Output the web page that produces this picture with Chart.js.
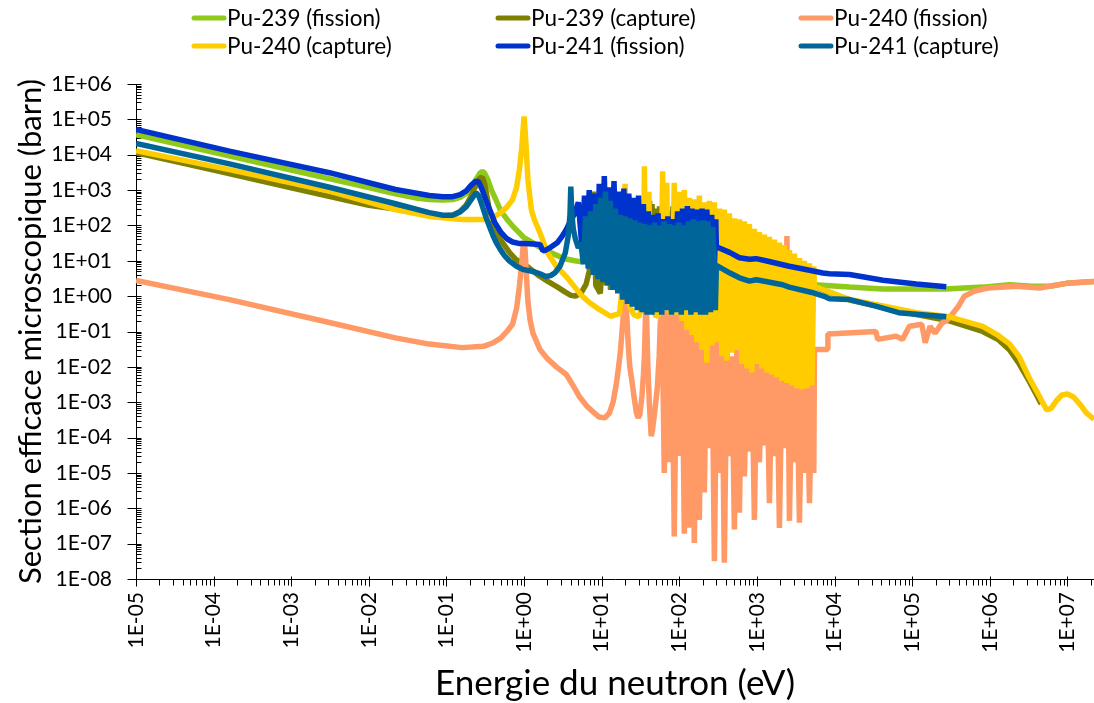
<!DOCTYPE html>
<html>
<head>
<meta charset="utf-8">
<script src="https://cdn.jsdelivr.net/npm/chart.js@4.4.1/dist/chart.umd.min.js"></script>
<style>
  html, body { margin: 0; padding: 0; background: #fff; }
  #wrap { position: relative; width: 1094px; height: 703px; }
</style>
</head>
<body>
<div id="wrap"><canvas id="c"></canvas></div>
<script>
// ---- Axis decades (exponents) and titles ----
const X_DECADES = [-5, -4, -3, -2, -1, 0, 1, 2, 3, 4, 5, 6, 7];
const Y_DECADES = [-8, -7, -6, -5, -4, -3, -2, -1, 0, 1, 2, 3, 4, 5, 6];
const X_MAX = 2.2e7;
const X_TITLE = 'Energie du neutron (eV)';
const Y_TITLE = 'Section efficace microscopique (barn)';

// ---- Pu-239 fission (eV, barn) ----
const PU239F_TH_E = [1e-5, 1e-4, 1e-3, 0.01, 0.022, 0.04, 0.06, 0.09, 0.12, 0.15, 0.18, 0.21, 0.24, 0.27, 0.29, 0.31, 0.34, 0.38, 0.43, 0.5,
  0.6, 0.75, 1.0, 1.3, 1.6, 2.2, 2.9, 3.6, 4.5, 5.6, 6.8];
const PU239F_TH   = [3.7e4, 1.17e4, 3.7e3, 1.17e3, 780, 600, 545, 525, 540, 620, 800, 1200, 2000, 3000, 3400, 3000, 2000, 1000, 550, 260,
  150, 85, 45, 32, 24, 17, 13, 11, 10, 9.3, 12];
const RES239_E = [7.8, 8.4, 9.6, 10.9, 11.5, 11.9, 13.0, 14.3, 15.0, 15.5, 16.5, 17.7, 19.5, 22.3, 24.0, 26.2, 29.0, 32.3, 34.0, 35.5,
  38.5, 41.4, 43.0, 44.5, 47.0, 50.1, 53.0, 55.6, 58.0, 60.9, 63.0, 65.4, 70.0, 74.0, 79.0, 82.7, 88.0,
  95, 103, 112, 122, 133, 145, 158, 172, 187, 204, 222, 242, 264, 288, 314, 342, 373, 407, 444, 484, 528, 576, 628, 685,
  747, 815, 889, 970, 1058, 1154, 1259, 1373, 1498, 1634, 1782, 1944, 2120, 2313, 2523, 3000, 4000, 5000];
const PU239F_RES_E = [7.4, ...RES239_E];
const PU239F_RES = [20, 300, 10, 9, 1200, 10, 500, 8, 400, 8, 300, 8, 350, 6, 500, 6, 350, 5, 300, 5,
  250, 5, 400, 5, 300, 5, 280, 5, 250, 4, 200, 4, 250, 4, 200, 4, 250, 4,
  300, 3, 400, 2, 250, 3, 200, 2, 300, 2, 150, 3, 200, 2, 150, 2, 100, 2, 90, 2, 60, 2,
  60, 2, 45, 2, 40, 2, 28, 2, 25, 2, 20, 2, 17, 2, 14, 2, 10, 3, 2.5, 2.2];
const PU239F_FAST_E = [5500, 1.56e4, 4.2e4, 2.7e5, 8.1e5, 1.8e6, 3.4e6, 5.9e6, 9.7e6, 2.2e7];
const PU239F_FAST   = [2.1, 1.8, 1.6, 1.6, 1.8, 2.1, 1.9, 1.9, 2.3, 2.6];

// ---- Pu-239 capture ----
const PU239C_TH_E = [1e-5, 1e-4, 1e-3, 0.01, 0.022, 0.04, 0.06, 0.09, 0.12, 0.15, 0.18, 0.21, 0.24, 0.27, 0.29, 0.31, 0.34, 0.36, 0.4, 0.45,
  0.53, 0.65, 0.78, 1.05, 1.5, 2.0, 2.7, 3.4, 4.0, 4.6, 5.5, 6.3, 6.9, 7.3];
const PU239C_TH   = [1.15e4, 3.65e3, 1.15e3, 370, 290, 230, 200, 185, 195, 250, 380, 700, 1400, 2200, 2300, 1500, 500, 230, 110, 55,
  32, 17, 11, 7.5, 4, 2.65, 1.8, 1.3, 1.05, 1.0, 1.3, 2.2, 5, 20];
const PU239C_RES = [900, 2, 1.2, 250, 2, 600, 1.5, 350, 1.5, 250, 1.5, 400, 1.2, 700, 1.2, 300, 1, 250, 1, 300,
  1, 500, 1, 400, 1, 300, 1, 350, 1, 250, 1, 300, 1, 250, 1, 350, 1,
  200, 1, 300, 1, 180, 1, 150, 1, 220, 1, 100, 1, 150, 1, 110, 1, 70, 1, 60, 1, 45, 1, 40, 1,
  30, 1, 28, 1, 20, 1, 17, 1, 14, 1, 12, 1, 10, 1, 7, 2, 1.9, 1.9];
const PU239C_FAST_E = [5500, 1.56e4, 4.2e4, 1.13e5, 3.0e5, 8.1e5, 1.3e6, 1.8e6, 2.4e6, 3.2e6, 4.0e6, 4.6e6];
const PU239C_FAST   = [1.85, 0.78, 0.48, 0.3, 0.2, 0.1, 0.058, 0.03, 0.012, 4e-3, 1.6e-3, 9e-4];

// ---- Pu-240 fission ----
const PU240F_TH_E = [1e-5, 1.6e-4, 3.1e-3, 0.022, 0.06, 0.16, 0.3, 0.4, 0.5, 0.6, 0.71, 0.8, 0.87, 0.93, 0.97, 1.0, 1.03, 1.07, 1.12, 1.2,
  1.3, 1.6, 2.0, 2.6, 3.5, 4.3, 5.2, 6.5, 8.0, 9.3, 11, 12.6, 14, 15.5, 16.5, 17.5, 19, 20, 21, 22,
  23, 24.5, 26, 28, 29.5, 31, 33, 34.5, 35.5, 36.5, 37.3, 38, 39, 40, 41, 42.5, 43.4, 45, 48, 52, 55, 57, 58, 59, 61];
const PU240F_TH   = [2.8, 0.8, 0.18, 0.066, 0.044, 0.035, 0.038, 0.048, 0.065, 0.1, 0.16, 0.45, 1.9, 8, 25, 36, 20, 4, 0.7, 0.2,
  0.09, 0.031, 0.017, 0.01, 6.1e-3, 2.9e-3, 1.4e-3, 7.6e-4, 5e-4, 3.8e-4, 3.6e-4, 5e-4, 1e-3, 3.5e-3, 0.01, 0.03, 0.3, 1.6, 0.3, 0.04,
  0.01, 4e-3, 1.5e-3, 5e-4, 3.6e-4, 4.5e-4, 1.5e-3, 6e-3, 0.02, 0.2, 1.6, 0.2, 0.02, 4e-3, 1e-3, 2.5e-4, 1.1e-4, 1.6e-4, 5e-4, 2.5e-3, 0.02, 0.2, 1.5, 0.2, 0.02];
const RES240_E = [86, 93, 100, 108, 116, 125, 135, 145, 156, 168, 181, 195, 210, 226, 244, 263, 283, 305, 328, 353,
  380, 410, 441, 475, 512, 551, 594, 640, 689, 742, 799, 861, 927, 999, 1076, 1159, 1248, 1344, 1448, 1559,
  1680, 1809, 1948, 2098, 2260, 2434, 2622, 2824, 3041, 3276, 3528, 3800, 4093, 4408, 4748, 5114, 5400];
const PU240F_RES_E = [64, 69, 74, 80, ...RES240_E];
const PU240F_RES = [1e-5, 0.4, 2e-5, 0.3, 1.6e-7, 0.3, 3e-5, 0.2, 1.9e-7, 0.2, 2.8e-7, 0.15, 1.05e-7, 0.1, 4.7e-7, 0.06, 2.8e-6, 0.08, 5e-5, 0.05,
  3.2e-8, 0.06, 1e-5, 0.04, 2.9e-8, 0.03, 3e-5, 0.02, 2.5e-7, 0.03, 7.5e-7, 0.02, 8e-6, 0.015, 4e-5, 0.01, 4.7e-7, 0.015, 2e-5, 0.01,
  6e-5, 0.01, 1.4e-6, 0.008, 3e-5, 0.008, 2.8e-7, 0.006, 5e-5, 50, 4.4e-7, 0.006, 2e-5, 0.005, 3.9e-7, 0.005, 1e-5, 0.005, 1.4e-6, 0.005, 1e-5];
const PU240F_FAST_E = [5500, 8000, 8200, 3.4e4, 3.6e4, 6.2e4, 7.5e4, 9.2e4, 1.33e5, 1.47e5, 1.7e5, 1.97e5, 2.4e5, 2.9e5, 3.9e5, 4.7e5, 6.4e5, 9.5e5, 2.2e6, 4.4e6, 5.9e6, 9.7e6, 2.2e7];
const PU240F_FAST   = [0.031, 0.031, 0.085, 0.1, 0.06, 0.074, 0.06, 0.14, 0.16, 0.048, 0.14, 0.09, 0.17, 0.22, 0.5, 1.0, 1.4, 1.7, 1.9, 1.7, 1.9, 2.3, 2.6];

// ---- Pu-240 capture ----
const PU240C_TH_E = [1e-5, 1.6e-4, 3.1e-3, 0.022, 0.06, 0.16, 0.3, 0.4, 0.5, 0.6, 0.71, 0.8, 0.87, 0.93, 0.97, 1.0, 1.03, 1.07, 1.12, 1.18,
  1.24, 1.35, 1.6, 2.0, 2.6, 3.45, 4.5, 5.6, 7.0, 9.3, 13, 17, 18.5, 20, 21.5, 23, 26, 30, 33, 34.5,
  35.5, 36.5, 38, 39.5, 40.5, 41.5, 45, 50, 55, 58.5, 61, 63, 65, 67.5, 69, 70.5, 74, 78, 82];
const PU240C_TH   = [1.3e4, 3.8e3, 930, 280, 180, 147, 147, 170, 230, 330, 540, 1200, 3.8e3, 1.5e4, 5e4, 1.2e5, 5e4, 1.2e4, 2e3, 700,
  280, 150, 62, 17, 7, 3.7, 1.8, 1.0, 0.65, 0.42, 0.27, 0.32, 2, 1500, 2, 0.5, 0.3, 0.26, 0.5, 5,
  4700, 5, 0.8, 6, 900, 6, 0.4, 0.27, 0.3, 5, 3400, 5, 0.6, 5, 1600, 5, 0.4, 0.3, 2];
const PU240C_RES = [1600, 0.3, 900, 0.2, 1000, 0.11, 600, 0.08, 550, 0.05, 700, 0.03, 450, 0.013, 500, 0.04, 450, 0.05, 300, 0.02,
  280, 0.015, 220, 0.025, 160, 0.03, 150, 0.012, 130, 0.009, 110, 0.007, 80, 0.012, 65, 0.009, 55, 0.007, 48, 0.006,
  40, 0.005, 33, 0.004, 28, 0.0035, 20, 0.003, 16, 0.0025, 12, 0.0023, 10, 0.0025, 8.5, 0.003, 7];
const PU240C_FAST_E = [5500, 1.56e4, 4.2e4, 1.13e5, 3.0e5, 8.1e5, 1.3e6, 1.8e6, 2.4e6, 3.2e6, 4.4e6, 5.4e6, 6.2e6, 7.2e6, 8.5e6, 1.0e7, 1.2e7, 1.5e7, 1.75e7, 2.2e7];
const PU240C_FAST   = [1.9, 0.8, 0.53, 0.34, 0.26, 0.14, 0.076, 0.044, 0.019, 5e-3, 1.4e-3, 6e-4, 6.8e-4, 1.1e-3, 1.6e-3, 1.7e-3, 1.4e-3, 8e-4, 5e-4, 3.3e-4];

// ---- Pu-241 fission ----
const PU241F_TH_E = [1e-5, 1.6e-4, 3.1e-3, 0.022, 0.06, 0.09, 0.12, 0.15, 0.18, 0.21, 0.24, 0.26, 0.29, 0.33, 0.36, 0.42, 0.5, 0.6, 0.71, 0.85,
  1.0, 1.3, 1.6, 1.75, 1.9, 2.2, 2.7, 3.1, 3.5, 4.0, 4.4, 4.7];
const PU241F_TH   = [5.2e4, 1.26e4, 3.1e3, 1.04e3, 700, 650, 650, 740, 950, 1400, 1800, 1700, 1000, 450, 280, 120, 65, 42, 34, 31,
  31, 30, 29, 19, 20, 24, 33, 50, 77, 140, 200, 300];
const PU241F_RES_E = [5.0, 5.6, 6.0, 6.4, 6.9, 7.5, 8.1, 8.7, 9.3, 10.0, 10.8, 11.6, 12.4, 13.4, 14.4, 15.5, 16.7, 17.9, 19.3, 20.7,
  22.3, 24.0, 25.8, 27.7, 29.8, 32.0, 34.4, 37.0, 39.8, 42.8, 46.0, 49.5, 53.2, 57.2, 61.5, 66.1, 71.1, 76.4, 82.2, 88.4,
  95.0, 102, 110, 118, 127, 136, 146, 157, 169, 182, 196, 210, 226, 243, 261, 281, 295];
const PU241F_RES = [450, 20, 700, 15, 1000, 12, 800, 10, 1500, 10, 2500, 8, 1200, 8, 1800, 7, 900, 6, 1100, 6,
  800, 5, 600, 5, 700, 5, 400, 4, 250, 4, 200, 4, 220, 4, 150, 4, 180, 4, 150, 4,
  250, 4, 300, 4, 350, 4, 300, 4, 280, 4, 300, 4, 280, 4, 200, 4, 150];
const PU241F_FAST_E = [300, 450, 595, 800, 977, 1300, 2600, 4750, 7050, 8600, 1.56e4, 4.2e4, 1.13e5, 2.75e5];
const PU241F_FAST   = [25, 17, 12.2, 11, 11.5, 10, 7, 5.4, 4.5, 4.3, 4.1, 2.8, 2.2, 1.84];

// ---- Pu-241 capture ----
const PU241C_TH_E = [1e-5, 1.6e-4, 3.1e-3, 0.022, 0.06, 0.09, 0.12, 0.15, 0.18, 0.21, 0.24, 0.26, 0.29, 0.32, 0.36, 0.4, 0.44, 0.5, 0.56, 0.65,
  0.8, 0.96, 1.3, 1.6, 1.9, 2.2, 2.5, 2.9, 3.4, 3.7, 3.9, 4.0, 4.1, 4.3, 4.6, 5.0];
const PU241C_TH   = [2.1e4, 5.5e3, 1.2e3, 410, 230, 195, 195, 240, 340, 550, 840, 700, 350, 180, 90, 50, 32, 20, 14, 9.8,
  7, 5.7, 5, 4.3, 3.6, 3.8, 4.6, 7, 17, 50, 200, 1250, 250, 80, 40, 23];
const PU241C_RES_E = [5.4, 5.8, 6.2, 6.7, 7.2, 7.8, 8.4, 9.0, 9.7, 10.4, 11.2, 12.0, 12.9, 13.9, 15.0, 16.1, 17.3, 18.6, 20.0, 21.5,
  23.1, 24.8, 26.7, 28.7, 30.9, 33.2, 35.7, 38.4, 41.3, 44.4, 47.7, 51.3, 55.2, 59.3, 63.8, 68.6, 73.7, 79.3, 85.2, 91.6,
  98.5, 106, 114, 122, 131, 141, 152, 163, 175, 188, 203, 218, 234, 252, 271, 291];
const PU241C_RES = [32, 8, 180, 6, 250, 4, 400, 3, 600, 2.5, 900, 2, 500, 1.5, 300, 1.2, 200, 0.8, 180, 0.6,
  160, 0.5, 140, 0.4, 120, 0.35, 110, 0.3, 100, 0.3, 120, 0.35, 100, 0.3, 130, 0.4, 110, 0.3, 100, 0.35,
  120, 0.3, 100, 0.4, 130, 0.3, 150, 0.35, 130, 0.3, 140, 0.3, 130, 0.35, 90, 0.4];
const PU241C_FAST_E = [300, 450, 595, 800, 977, 1300, 2150, 2600, 5100, 7700, 8600, 1.56e4, 3.4e4, 6.7e4, 2.75e5];
const PU241C_FAST   = [7.4, 4.5, 3.3, 2.65, 2.9, 2.6, 2.1, 1.8, 1.27, 0.95, 0.85, 0.8, 0.52, 0.34, 0.26];

// ---- helpers ----
const zip = (E, S) => E.map((e, i) => ({ x: e, y: S[i] }));
const join = (...parts) => parts.flatMap(([E, S]) => zip(E, S));
const sci = v => {
  const e = Math.round(Math.log10(v));
  return '1E' + (e < 0 ? '-' : '+') + String(Math.abs(e)).padStart(2, '0');
};

const FONT = "Lato, 'Open Sans', sans-serif";
const LINE_W = 5.5;

// legend order = dataset order; draw order via `order` (lower is drawn on top)
const datasets = [
  { label: 'Pu-239 (fission)', borderColor: '#8FC919', order: 5,
    data: join([PU239F_TH_E, PU239F_TH], [PU239F_RES_E, PU239F_RES], [PU239F_FAST_E, PU239F_FAST]) },
  { label: 'Pu-239 (capture)', borderColor: '#808000', order: 4,
    data: join([PU239C_TH_E, PU239C_TH], [RES239_E, PU239C_RES], [PU239C_FAST_E, PU239C_FAST]) },
  { label: 'Pu-240 (fission)', borderColor: '#FF9966', order: 3,
    data: join([PU240F_TH_E, PU240F_TH], [PU240F_RES_E, PU240F_RES], [PU240F_FAST_E, PU240F_FAST]) },
  { label: 'Pu-240 (capture)', borderColor: '#FFCC00', order: 2,
    data: join([PU240C_TH_E, PU240C_TH], [RES240_E, PU240C_RES], [PU240C_FAST_E, PU240C_FAST]) },
  { label: 'Pu-241 (fission)', borderColor: '#0033CC', order: 1,
    data: join([PU241F_TH_E, PU241F_TH], [PU241F_RES_E, PU241F_RES], [PU241F_FAST_E, PU241F_FAST]) },
  { label: 'Pu-241 (capture)', borderColor: '#006699', order: 0,
    data: join([PU241C_TH_E, PU241C_TH], [PU241C_RES_E, PU241C_RES], [PU241C_FAST_E, PU241C_FAST]) }
];

// Axis lines with major/minor log ticks, positioned through the chart scales
const axesPlugin = {
  id: 'logAxes',
  beforeDatasetsDraw(chart) {
    const { ctx, chartArea: a, scales: { x, y } } = chart;
    const ax = Math.round(a.left) + 0.5;
    const ay = Math.round(a.bottom) + 0.5;
    ctx.save();
    ctx.strokeStyle = '#000';
    ctx.lineWidth = 1;
    ctx.beginPath();
    ctx.moveTo(ax, a.top); ctx.lineTo(ax, ay); ctx.lineTo(a.right, ay);
    Y_DECADES.forEach((p, i) => {
      const py = Math.round(y.getPixelForValue(Math.pow(10, p))) + 0.5;
      ctx.moveTo(ax - 9, py); ctx.lineTo(ax + 5, py);
      if (i < Y_DECADES.length - 1) {
        for (let m = 2; m <= 9; m++) {
          const my = Math.round(y.getPixelForValue(m * Math.pow(10, p))) + 0.5;
          ctx.moveTo(ax, my); ctx.lineTo(ax + 5, my);
        }
      }
    });
    X_DECADES.forEach(p => {
      const px = Math.round(x.getPixelForValue(Math.pow(10, p))) + 0.5;
      ctx.moveTo(px, ay - 3); ctx.lineTo(px, ay + 7);
      for (let m = 2; m <= 9; m++) {
        const v = m * Math.pow(10, p);
        if (v > X_MAX) break;
        const mx = Math.round(x.getPixelForValue(v)) + 0.5;
        ctx.moveTo(mx, ay); ctx.lineTo(mx, ay + 6);
      }
    });
    ctx.stroke();
    ctx.restore();
  }
};

// Two-row legend laid out in three aligned columns
const LEGEND_COLS = [192, 496, 799];
const LEGEND_ROWS = [18, 46];
const legendPlugin = {
  id: 'columnLegend',
  afterDraw(chart) {
    const { ctx } = chart;
    ctx.save();
    ctx.font = '22.5px ' + FONT;
    ctx.textBaseline = 'middle';
    ctx.textAlign = 'left';
    chart.data.datasets.forEach((ds, i) => {
      const x0 = LEGEND_COLS[i % 3];
      const y0 = LEGEND_ROWS[Math.floor(i / 3)];
      ctx.strokeStyle = ds.borderColor;
      ctx.lineWidth = 5;
      ctx.lineCap = 'round';
      ctx.beginPath(); ctx.moveTo(x0 + 2, y0); ctx.lineTo(x0 + 32, y0); ctx.stroke();
      ctx.fillStyle = '#000';
      ctx.fillText(ds.label, x0 + 35, y0 + 1);
    });
    ctx.restore();
  }
};

Chart.defaults.font.family = FONT;

new Chart(document.getElementById('c'), {
  type: 'line',
  data: { datasets },
  options: {
    responsive: true,
    maintainAspectRatio: false,
    animation: false,
    devicePixelRatio: 1,
    layout: { padding: { top: 84, left: 0, right: 0, bottom: 0 } },
    plugins: { legend: { display: false }, tooltip: { enabled: false } },
    elements: {
      point: { radius: 0, hoverRadius: 0 },
      line: { tension: 0, borderWidth: LINE_W, borderJoinStyle: 'bevel', borderCapStyle: 'butt', fill: false }
    },
    scales: {
      x: {
        type: 'logarithmic',
        position: 'bottom',
        min: Math.pow(10, X_DECADES[0]),
        max: X_MAX,
        afterBuildTicks: s => { s.ticks = X_DECADES.map(p => ({ value: Math.pow(10, p) })); },
        afterFit: s => { s.height = 124; s.paddingLeft = 0; s.paddingRight = 0; },
        ticks: {
          callback: v => sci(v), autoSkip: false, maxRotation: 90, minRotation: 90,
          padding: 13, color: '#000', font: { family: FONT, size: 21 }
        },
        grid: { display: false, drawTicks: false },
        border: { display: false },
        title: { display: true, text: X_TITLE, color: '#000', font: { family: FONT, size: 35 }, padding: { top: 0, bottom: -2 } }
      },
      y: {
        type: 'logarithmic',
        position: 'left',
        min: Math.pow(10, Y_DECADES[0]),
        max: Math.pow(10, Y_DECADES[Y_DECADES.length - 1]),
        afterBuildTicks: s => { s.ticks = Y_DECADES.map(p => ({ value: Math.pow(10, p) })); },
        afterFit: s => { s.width = 136; s.paddingTop = 0; s.paddingBottom = 0; },
        ticks: {
          callback: v => sci(v), autoSkip: false,
          padding: 24, color: '#000', font: { family: FONT, size: 21 }
        },
        grid: { display: false, drawTicks: false },
        border: { display: false },
        title: { display: true, text: Y_TITLE, color: '#000', font: { family: FONT, size: 31 }, padding: { top: 12, bottom: 0 } }
      }
    }
  },
  plugins: [axesPlugin, legendPlugin]
});
</script>
</body>
</html>
